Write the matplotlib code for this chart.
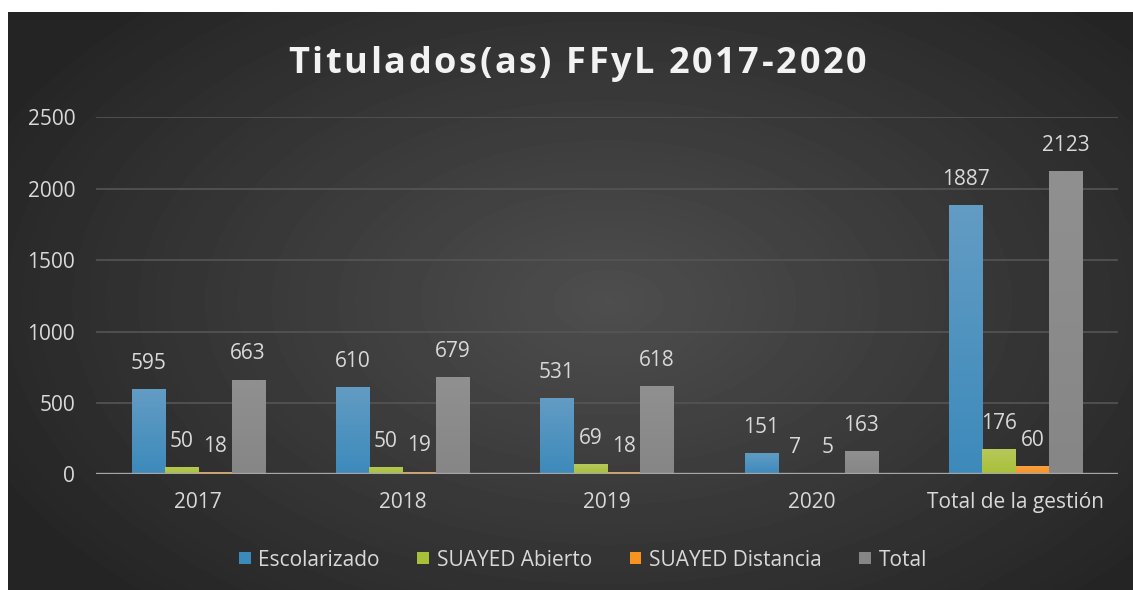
import numpy as np
import matplotlib.pyplot as plt
from matplotlib.colors import LinearSegmentedColormap

plt.rcParams["font.family"] = ["Open Sans", "DejaVu Sans"]

categories = ["2017", "2018", "2019", "2020", "Total de la gestión"]
escolarizado = [595, 610, 531, 151, 1887]
suayed_abierto = [50, 50, 69, 7, 176]
suayed_distancia = [18, 19, 18, 5, 60]
total = [663, 679, 618, 163, 2123]

series = [
    ("Escolarizado", escolarizado, "#3c8abb", "#639cc4"),
    ("SUAYED Abierto", suayed_abierto, "#a8c038", "#b8c85c"),
    ("SUAYED Distancia", suayed_distancia, "#f7931e", "#f9a24a"),
    ("Total", total, "#868686", "#909090"),
]
title = "Titulados(as) FFyL 2017-2020"

W, H = 1133, 590
fig = plt.figure(figsize=(W / 100, H / 100), dpi=100, facecolor="white")

# dark radial background
bg = fig.add_axes([8 / W, 0, 1 - 8 / W, 1 - 12 / H], zorder=-10)
yy, xx = np.mgrid[0:578, 0:1125]
r = np.sqrt(((xx - 600) / 700) ** 2 + ((yy - 290) / 420) ** 2)
shade = np.clip(78 - 42 * r, 36, 80) / 255
bg.imshow(shade, cmap="gray", vmin=0, vmax=1, aspect="auto", interpolation="bilinear")
bg.set_axis_off()

ax = fig.add_axes([96 / W, 1 - 474.3 / H, (1118 - 96) / W, (474.3 - 117.3) / H])
ax.patch.set_alpha(0)

fs = 15
x = np.arange(len(categories))
bw = 0.163
grad = np.linspace(0, 1, 256).reshape(-1, 1)
handles = []
for i, (name, vals, bottom, top) in enumerate(series):
    xs = x + (i - 1.5) * bw
    bars = ax.bar(xs, vals, width=bw, color=bottom, zorder=3, label=name)
    handles.append(bars)
    cmap = LinearSegmentedColormap.from_list(name, [bottom, top])
    for b, v in zip(bars, vals):
        bx = b.get_x()
        im = ax.imshow(grad, extent=[bx, bx + bw, 0, v], origin="lower",
                       cmap=cmap, aspect="auto", zorder=3.5)
        im.set_clip_path(b)
        ax.annotate(str(v), (bx + bw / 2, v), xytext=(0, 18.5),
                    textcoords="offset points", ha="center", va="center",
                    fontsize=fs, color="#d9d9d9")

ax.set_xlim(-0.5, len(categories) - 0.5)
ax.set_ylim(0, 2500)
ax.set_yticks(np.arange(0, 2501, 500))
ax.set_xticks(x)
ax.set_xticklabels(categories)
ax.tick_params(axis="both", length=0, labelsize=fs, colors="#d9d9d9")
ax.tick_params(axis="y", pad=15)
ax.tick_params(axis="x", pad=13)
ax.grid(axis="y", color="#555555", lw=1.2, zorder=0)
for s in ax.spines.values():
    s.set_visible(False)
ax.axhline(0, color="#a6a6a6", lw=2.4, zorder=5)

# title with extra letter spacing
renderer = fig.canvas.get_renderer()
tkw = dict(fontsize=26, fontweight="bold", color="#f2f2f2", va="baseline")
spacing = 2.6
widths = []
for k in range(len(title) + 1):
    t = fig.text(0, 0, title[:k] + "|", **tkw)
    bar_w = fig.text(0, 0, "|", **tkw)
    widths.append(t.get_window_extent(renderer).width - bar_w.get_window_extent(renderer).width)
    t.remove()
    bar_w.remove()
full = widths[-1] + spacing * (len(title) - 1)
x0 = 577 - full / 2
for k, ch in enumerate(title):
    fig.text((x0 + widths[k] + spacing * k) / W, 1 - 73 / H, ch, ha="left", **tkw)

fig.legend(handles=handles, loc="center", bbox_to_anchor=(583 / W, 1 - 560 / H),
           ncol=4, frameon=False, fontsize=fs, labelcolor="#d9d9d9",
           handlelength=0.55, handleheight=0.55, handletextpad=0.38,
           columnspacing=1.8)

fig.savefig("out.png", dpi=100, facecolor="white")
